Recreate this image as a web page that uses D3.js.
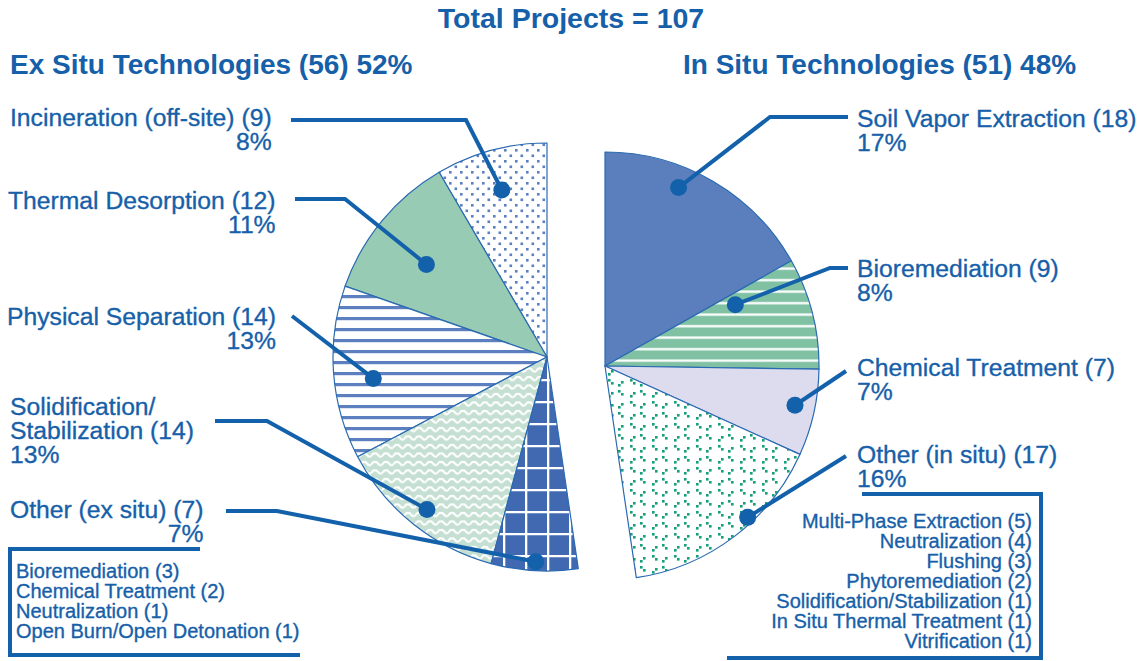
<!DOCTYPE html>
<html>
<head>
<meta charset="utf-8">
<script src="https://cdn.jsdelivr.net/npm/d3@7"></script>
<style>
  html, body { margin: 0; padding: 0; background: #fff; }
  svg text { font-family: "Liberation Sans", Arial, Helvetica, sans-serif; fill: #1660a9; }
  svg text.reg { stroke: #1660a9; stroke-width: 0.35px; }
</style>
</head>
<body>
<div id="chart"></div>
<script>
// data
const exCategories = ["Incineration (off-site)", "Thermal Desorption", "Physical Separation", "Solidification/Stabilization", "Other (ex situ)"];
const exCounts = [9, 12, 14, 14, 7];
const exPercents = [8, 11, 13, 13, 7];

const inCategories = ["Soil Vapor Extraction", "Bioremediation", "Chemical Treatment", "Other (in situ)"];
const inCounts = [18, 9, 7, 17];
const inPercents = [17, 8, 7, 16];

const exOtherItems = ["Bioremediation (3)", "Chemical Treatment (2)", "Neutralization (1)", "Open Burn/Open Detonation (1)"];
const inOtherItems = ["Multi-Phase Extraction (5)", "Neutralization (4)", "Flushing (3)", "Phytoremediation (2)",
  "Solidification/Stabilization (1)", "In Situ Thermal Treatment (1)", "Vitrification (1)"];

// layout
const W = 1142, H = 661, R = 214;
const BLUE = "#1461ab";
const exCenter = [547, 357], inCenter = [605, 366];
const exFills = ["url(#dots)", "#98cbb4", "url(#hstripes)", "url(#zigzag)", "url(#grid)"];
const inFills = ["#5b7fbd", "url(#greenstripes)", "#dcdcee", "url(#ticks)"];
// dot placement inside each slice: fraction of the slice angle, distance from centre
const exDots = [[0.5, 173], [0.55, 152], [0.56, 175], [0.51, 194], [0.51, 205]];
const inDots = [[0.37, 193], [0.14, 144], [0.46, 194], [0.39, 208]];
// leader start x, y and elbow x
const exLeaders = [[291, 120, 466], [295, 199, 345], [292, 316, 292], [215, 421, 267], [226, 511, 277]];
const inLeaders = [[848, 117, 770], [848, 268, 830], [846, 371, 846], [846, 456, 846]];
const exLabels = [[10, 126], [8, 209], [7, 325], [10, 415], [10, 518]];
const inLabels = [[857, 127], [857, 277], [857, 376], [857, 463]];
const LABEL_SIZE = 24.7;

const total = d3.sum(exCounts) + d3.sum(inCounts);

const svg = d3.select("#chart").append("svg").attr("width", W).attr("height", H);
const defs = svg.append("defs");

// patterns
const pat = (id, w, h) => defs.append("pattern").attr("id", id).attr("patternUnits", "userSpaceOnUse")
  .attr("width", w).attr("height", h);

let p = pat("dots", 11, 11);
p.append("rect").attr("x", 1).attr("y", 1).attr("width", 2.6).attr("height", 2.6).attr("fill", "#5b7fbf");
p.append("rect").attr("x", 6.5).attr("y", 6.5).attr("width", 2.6).attr("height", 2.6).attr("fill", "#5b7fbf");

p = pat("hstripes", 11, 11);
p.append("rect").attr("width", 11).attr("height", 11).attr("fill", "#fff");
p.append("rect").attr("y", 4).attr("width", 11).attr("height", 3.2).attr("fill", "#5b7fbf");

p = pat("zigzag", 11, 8.5);
p.append("rect").attr("width", 11).attr("height", 8.5).attr("fill", "#c5e0d2");
p.append("path").attr("d", "M-0.5,6 L2.5,3 L5.5,3 L8.5,6 L11.5,6").attr("fill", "none")
  .attr("stroke", "#fff").attr("stroke-width", 2);

p = pat("grid", 22, 22);
p.append("rect").attr("width", 22).attr("height", 22).attr("fill", "#4069b1");
p.append("path").attr("d", "M0,1 H22 M1,0 V22").attr("stroke", "#fff").attr("stroke-width", 2.6);

p = pat("greenstripes", 11.5, 11.5);
p.append("rect").attr("width", 11.5).attr("height", 11.5).attr("fill", "#80c1a4");
p.append("rect").attr("y", 5).attr("width", 11.5).attr("height", 2.3).attr("fill", "#fff");

p = pat("ticks", 22, 22);
p.append("rect").attr("width", 22).attr("height", 22).attr("fill", "#fff");
[[3, 7, -1], [13, 2, 1], [13, 18, -1], [3, 13, 1]].forEach(([x, y, s]) => {
  p.append("rect").attr("x", x).attr("y", y).attr("width", 2.6).attr("height", 2.6).attr("fill", "#14a07a");
  p.append("rect").attr("x", x + 3).attr("y", y + s * 3).attr("width", 2.6).attr("height", 2.6).attr("fill", "#14a07a");
});

const arc = d3.arc().innerRadius(0).outerRadius(R);

const drawPie = (counts, span, center, fills, dots, leaders) => {
  const pie = d3.pie().sort(null).value(d => d).startAngle(0).endAngle(span);
  const arcs = pie(counts);
  const g = svg.append("g").attr("transform", `translate(${center})`);
  g.selectAll("path.slice").data(arcs).enter().append("path")
    .attr("class", "slice")
    .attr("d", arc)
    .attr("fill", (d, i) => fills[i])
    .attr("stroke", "#2a6ab1")
    .attr("stroke-width", 1.2)
    .attr("stroke-linejoin", "round");

  // leader lines + dots
  arcs.forEach((d, i) => {
    const a = d.startAngle + dots[i][0] * (d.endAngle - d.startAngle);
    const px = center[0] + dots[i][1] * Math.sin(a);
    const py = center[1] - dots[i][1] * Math.cos(a);
    const [lx, ly, ex] = leaders[i];
    svg.append("path")
      .attr("d", d3.line()([[lx, ly], [ex, ly], [px, py]]))
      .attr("fill", "none").attr("stroke", BLUE).attr("stroke-width", 4)
      .attr("stroke-linejoin", "miter");
    svg.append("circle").attr("cx", px).attr("cy", py).attr("r", 8.5).attr("fill", BLUE);
  });
};

drawPie(exCounts, -2 * Math.PI * d3.sum(exCounts) / total, exCenter, exFills, exDots, exLeaders);
drawPie(inCounts, 2 * Math.PI * d3.sum(inCounts) / total, inCenter, inFills, inDots, inLeaders);

// titles
svg.append("text").attr("x", 571).attr("y", 28).attr("text-anchor", "middle")
  .attr("font-size", 28.5).attr("font-weight", "bold")
  .text(`Total Projects = ${total}`);
svg.append("text").attr("x", 10).attr("y", 74).attr("font-size", 28).attr("font-weight", "bold")
  .text(`Ex Situ Technologies (${d3.sum(exCounts)}) ${Math.round(100 * d3.sum(exCounts) / total)}%`);
svg.append("text").attr("x", 683).attr("y", 74).attr("font-size", 28).attr("font-weight", "bold")
  .text(`In Situ Technologies (${d3.sum(inCounts)}) ${Math.round(100 * d3.sum(inCounts) / total)}%`);

// left labels: percent right-aligned under the name, except the wrapped one
exCategories.forEach((c, i) => {
  const [x, y] = exLabels[i];
  const name = `${c} (${exCounts[i]})`;
  if (c.includes("/")) {
    const parts = c.split("/");
    const lines = [parts[0] + "/", `${parts[1]} (${exCounts[i]})`, `${exPercents[i]}%`];
    lines.forEach((t, j) => svg.append("text").attr("class", "reg").attr("x", x).attr("y", y + j * 24)
      .attr("font-size", LABEL_SIZE).text(t));
  } else {
    const t = svg.append("text").attr("class", "reg").attr("x", x).attr("y", y).attr("font-size", LABEL_SIZE).text(name);
    const len = t.node().getComputedTextLength();
    svg.append("text").attr("class", "reg").attr("x", x + len).attr("y", y + 24).attr("font-size", LABEL_SIZE)
      .attr("text-anchor", "end").text(`${exPercents[i]}%`);
  }
});

inCategories.forEach((c, i) => {
  const [x, y] = inLabels[i];
  svg.append("text").attr("class", "reg").attr("x", x).attr("y", y).attr("font-size", LABEL_SIZE).text(`${c} (${inCounts[i]})`);
  svg.append("text").attr("class", "reg").attr("x", x).attr("y", y + 24).attr("font-size", LABEL_SIZE).text(`${inPercents[i]}%`);
});

// "other" breakdown boxes
svg.append("path").attr("d", "M200,549 H10 V655 H300").attr("fill", "none")
  .attr("stroke", BLUE).attr("stroke-width", 4);
svg.append("path").attr("d", "M862,494 H1041 V658 H727").attr("fill", "none")
  .attr("stroke", BLUE).attr("stroke-width", 4);

svg.selectAll("text.exitem").data(exOtherItems).enter().append("text")
  .attr("class", "exitem reg").attr("x", 16).attr("y", (d, i) => 578 + i * 20)
  .attr("font-size", 20).text(d => d);
svg.selectAll("text.initem").data(inOtherItems).enter().append("text")
  .attr("class", "initem reg").attr("x", 1032).attr("y", (d, i) => 528 + i * 20)
  .attr("text-anchor", "end").attr("font-size", 20).text(d => d);
</script>
</body>
</html>
